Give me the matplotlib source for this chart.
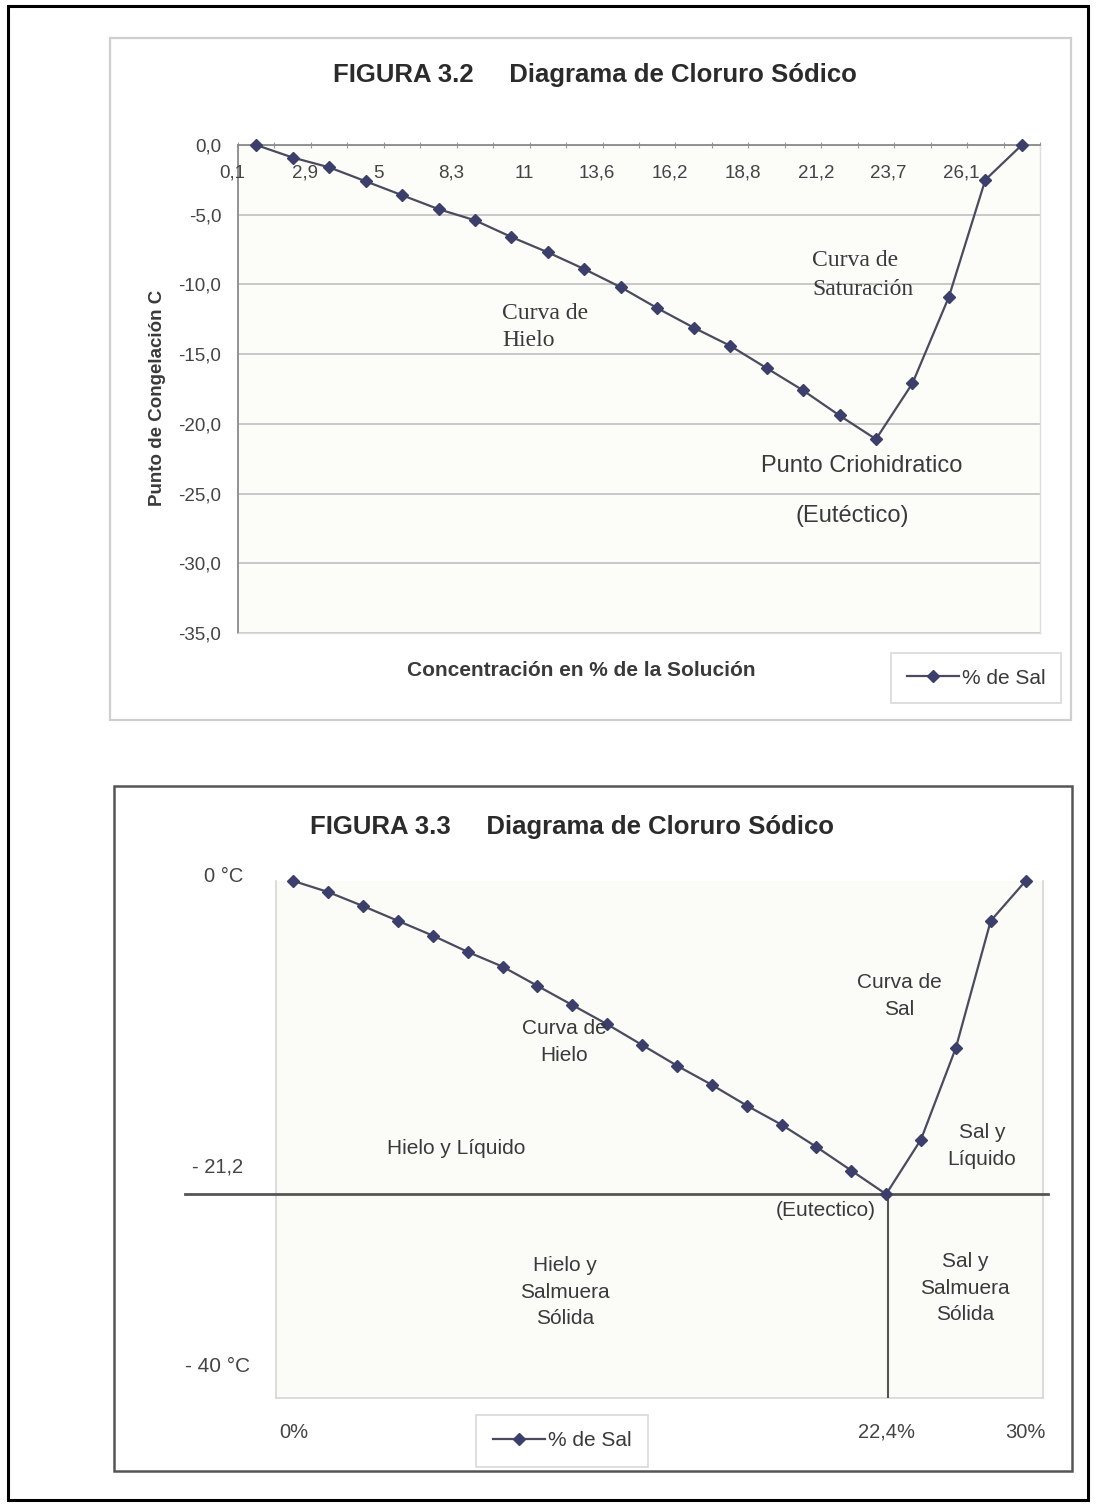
import numpy as np
import matplotlib
matplotlib.use("Agg")
import matplotlib.pyplot as plt
from matplotlib.patches import Rectangle

plt.rcParams['font.family'] = ['Liberation Sans', 'DejaVu Sans']

# ---------------- data ----------------
# Figure 3.2 : freezing point (°C) for each concentration category
freeze_top = [0.0, -0.9, -1.6, -2.6, -3.6, -4.6, -5.4, -6.6, -7.7, -8.9, -10.2,
              -11.7, -13.1, -14.4, -16.0, -17.6, -19.4, -21.1, -17.1, -10.9, -2.5, 0.0]
top_xlabels = ["0,1", "2,9", "5", "8,3", "11", "13,6", "16,2", "18,8", "21,2", "23,7", "26,1"]
top_yticks = [0, -5, -10, -15, -20, -25, -30, -35]
top_ylabels = ["0,0", "-5,0", "-10,0", "-15,0", "-20,0", "-25,0", "-30,0", "-35,0"]

# Figure 3.3 : same diagram
freeze_bottom = [0.0, -0.75, -1.7, -2.7, -3.7, -4.8, -5.8, -7.1, -8.4, -9.7, -11.1,
                 -12.5, -13.8, -15.2, -16.5, -18.0, -19.6, -21.2, -17.5, -11.3, -2.7, 0.0]
bottom_xlabels = ["0%", "22,4%", "30%"]
bottom_xlabel_idx = [0, 17, 21]
eutectic_idx = 17
eutectic_temp = -21.2
bottom_ytext = ["0 °C", "- 21,2", "- 40 °C"]

series_name = "% de Sal"

# ---------------- helpers ----------------
W, H = 1096, 1504
fig = plt.figure(figsize=(W / 100, H / 100), dpi=100)
fig.patch.set_facecolor("white")


def fx(x):
    return x / W


def fy(y):
    return 1 - y / H


def rect_px(l, t, r, b):
    return [fx(l), fy(b), (r - l) / W, (b - t) / H]


def frame(l, t, r, b, color, lw):
    fig.add_artist(Rectangle((fx(l), fy(b)), (r - l) / W, (b - t) / H,
                             transform=fig.transFigure, fill=False,
                             edgecolor=color, linewidth=lw))


def ftext(x, y, s, **kw):
    kw.setdefault("ha", "center")
    kw.setdefault("va", "center")
    fig.text(fx(x), fy(y), s, **kw)


LINE_C = "#4a4b5e"
MARK_C = "#3c3f6b"
TXT_C = "#3a3a3a"
SERIF = ['Liberation Serif', 'DejaVu Serif']

# page border
frame(8, 6, 1088, 1500, "black", 2.2)

# ================= FIGURE 3.2 =================
frame(110, 38, 1071, 720, "#cfcfcf", 1.6)
ftext(595, 75, "FIGURA 3.2     Diagrama de Cloruro Sódico", fontsize=18.5,
      fontweight="bold", color="#2b2b2b")

ax1 = fig.add_axes(rect_px(238, 145, 1040, 633))
ax1.set_facecolor("#fcfcf9")
x1 = np.arange(len(freeze_top))
ax1.plot(x1, freeze_top, color=LINE_C, lw=1.6, marker="D", markersize=6.5,
         markerfacecolor=MARK_C, markeredgecolor=MARK_C, label=series_name,
         clip_on=False, zorder=5)
ax1.set_xlim(-0.5, len(freeze_top) - 0.5)
ax1.set_ylim(-35, 0)
ax1.set_yticks(top_yticks, top_ylabels)
ax1.tick_params(axis="y", length=0, pad=12, labelsize=13.5, labelcolor="#444444")
ax1.yaxis.grid(True, color="#c4c4c4", lw=1.3)
ax1.set_axisbelow(True)
# category tick marks on the top (zero) axis
ax1.xaxis.set_ticks_position("top")
ax1.set_xticks(np.arange(-0.5, len(freeze_top), 1.0))
ax1.tick_params(axis="x", direction="inout", length=5, color="#9a9a9a",
                labeltop=False, labelbottom=False)
for k, lab in enumerate(top_xlabels):
    ax1.text(2 * k - 0.65, 0.942, lab, transform=ax1.get_xaxis_transform(),
             ha="center", va="center", fontsize=13.5, color="#444444")
for side in ["top", "left"]:
    ax1.spines[side].set_color("#8a8a8a")
    ax1.spines[side].set_linewidth(1.3)
for side in ["right", "bottom"]:
    ax1.spines[side].set_color("#dedede")
    ax1.spines[side].set_linewidth(1.0)

ftext(157, 398, "Punto de Congelación C", rotation=90, fontsize=13.5,
      fontweight="bold", color="#3a3a3a")
ftext(581, 670, "Concentración en % de la Solución", fontsize=15,
      fontweight="bold", color="#3a3a3a")

leg1 = ax1.legend(loc="center", bbox_to_anchor=(fx(976), fy(678)),
                  bbox_transform=fig.transFigure, frameon=True, fancybox=False,
                  fontsize=15, handlelength=2.5, borderpad=0.75,
                  handletextpad=0.15, labelcolor="#3a3a3a")
leg1.get_frame().set_edgecolor("#d0d0d0")
leg1.get_frame().set_linewidth(1.2)

# annotations
ftext(502, 327, "Curva de\nHielo", ha="left", fontsize=17, family=SERIF,
      color=TXT_C, linespacing=1.35)
ftext(812, 275, "Curva de\nSaturación", ha="left", fontsize=17, family=SERIF,
      color=TXT_C, linespacing=1.5)
ftext(862, 466, "Punto Criohidratico", fontsize=17, color=TXT_C)
ftext(852, 516, "(Eutéctico)", fontsize=17, color=TXT_C)

# ================= FIGURE 3.3 =================
frame(114, 786, 1072, 1471, "#555555", 1.8)
ftext(572, 827, "FIGURA 3.3     Diagrama de Cloruro Sódico", fontsize=18.5,
      fontweight="bold", color="#2b2b2b")

ax2 = fig.add_axes(rect_px(276, 881, 1043, 1398))
ax2.set_facecolor("#fbfbf8")
x2 = np.arange(len(freeze_bottom))
ax2.plot(x2, freeze_bottom, color=LINE_C, lw=1.6, marker="D", markersize=6.5,
         markerfacecolor=MARK_C, markeredgecolor=MARK_C, label=series_name,
         clip_on=False, zorder=5)
ax2.set_xlim(-0.5, len(freeze_bottom) - 0.5)
ax2.set_ylim(-35, 0)
ax2.set_yticks([])
ax2.set_xticks(bottom_xlabel_idx, bottom_xlabels)
ax2.tick_params(axis="x", length=0, pad=18, labelsize=14.5, labelcolor="#444444")
for side in ax2.spines:
    ax2.spines[side].set_color("#d6d6d6")
    ax2.spines[side].set_linewidth(1.2)
ax2.spines["top"].set_visible(False)

# eutectic lines
ax2.axhline(eutectic_temp, xmin=(185 - 276) / 767, xmax=(1048 - 276) / 767,
            color="#555555", lw=2.0, clip_on=False, zorder=3)
ax2.vlines(eutectic_idx + 0.05, -35, eutectic_temp, color="#555555", lw=1.5, zorder=3)

ftext(243, 876, bottom_ytext[0], ha="right", fontsize=14.5, color="#444444")
ftext(243, 1167, bottom_ytext[1], ha="right", fontsize=14.5, color="#444444")
ftext(250, 1367, bottom_ytext[2], ha="right", fontsize=15, color="#444444")

leg2 = ax2.legend(loc="center", bbox_to_anchor=(fx(562), fy(1441)),
                  bbox_transform=fig.transFigure, frameon=True, fancybox=False,
                  fontsize=15, handlelength=2.5, borderpad=0.8,
                  handletextpad=0.15, labelcolor="#3a3a3a")
leg2.get_frame().set_edgecolor("#d0d0d0")
leg2.get_frame().set_linewidth(1.2)

ls = 1.5
ftext(899, 996, "Curva de\nSal", fontsize=15, color=TXT_C, linespacing=ls)
ftext(564, 1042, "Curva de\nHielo", fontsize=15, color=TXT_C, linespacing=ls)
ftext(456, 1148, "Hielo y Líquido", fontsize=15, color=TXT_C)
ftext(982, 1146, "Sal y\nLíquido", fontsize=15, color=TXT_C, linespacing=ls)
ftext(826, 1211, "(Eutectico)", fontsize=15, color=TXT_C)
ftext(565, 1292, "Hielo y\nSalmuera\nSólida", fontsize=15, color=TXT_C, linespacing=ls)
ftext(965, 1288, "Sal y\nSalmuera\nSólida", fontsize=15, color=TXT_C, linespacing=ls)

fig.savefig("out.png", dpi=100, facecolor="white")
